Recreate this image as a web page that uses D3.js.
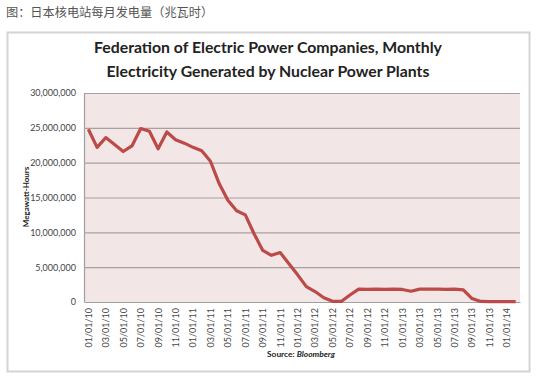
<!DOCTYPE html>
<html><head><meta charset="utf-8">
<script src="https://cdn.jsdelivr.net/npm/d3@7"></script>
<style>body{margin:0;background:#fff}svg{display:block}</style>
</head><body>
<script>
const months = ["01/01/10","02/01/10","03/01/10","04/01/10","05/01/10","06/01/10","07/01/10","08/01/10","09/01/10","10/01/10","11/01/10","12/01/10",
"01/01/11","02/01/11","03/01/11","04/01/11","05/01/11","06/01/11","07/01/11","08/01/11","09/01/11","10/01/11","11/01/11","12/01/11",
"01/01/12","02/01/12","03/01/12","04/01/12","05/01/12","06/01/12","07/01/12","08/01/12","09/01/12","10/01/12","11/01/12","12/01/12",
"01/01/13","02/01/13","03/01/13","04/01/13","05/01/13","06/01/13","07/01/13","08/01/13","09/01/13","10/01/13","11/01/13","12/01/13",
"01/01/14","02/01/14"];
const generation = [24800000,22200000,23600000,22600000,21600000,22400000,24900000,24500000,22000000,24400000,23300000,22800000,
22200000,21700000,20200000,17000000,14600000,13100000,12500000,9800000,7400000,6700000,7100000,5500000,
3900000,2200000,1500000,600000,100000,80000,1000000,1850000,1800000,1850000,1800000,1850000,
1800000,1550000,1850000,1850000,1850000,1800000,1850000,1750000,500000,80000,50000,50000,
50000,50000];
const yTicks = [0,5000000,10000000,15000000,20000000,25000000,30000000];
const xTickLabels = months.filter((d,i)=>i%2===0);

const W=536,H=379;
const svg=d3.select("body").append("svg").attr("width",W).attr("height",H);
const font="Lato, 'Open Sans', sans-serif";

svg.append("text").attr("x",6).attr("y",17).attr("font-family","'Noto Sans CJK SC', sans-serif")
  .attr("font-size",12.2).attr("fill","#555").text("图：日本核电站每月发电量（兆瓦时）");

svg.append("rect").attr("x",7.5).attr("y",32.5).attr("width",522).attr("height",339)
  .attr("fill","#fff").attr("stroke","#d4d4d4").attr("stroke-width",2);

const title=svg.append("text").attr("text-anchor","middle").attr("font-family",font)
  .attr("font-weight","bold").attr("font-size",15.8).attr("fill","#222");
title.append("tspan").attr("x",268).attr("y",53).text("Federation of Electric Power Companies, Monthly");
title.append("tspan").attr("x",268).attr("y",77).text("Electricity Generated by Nuclear Power Plants");

const L=84,R=520,T=93,B=302;
const x=d3.scalePoint().domain(months).range([L,R]).padding(0.5);
const y=d3.scaleLinear().domain([0,30000000]).range([B,T]);

svg.append("rect").attr("x",L).attr("y",T).attr("width",R-L).attr("height",B-T).attr("fill","#f2e6e6");

svg.append("g").selectAll("line").data(yTicks.filter(d=>d>0)).join("line")
  .attr("x1",L).attr("x2",R).attr("y1",d=>y(d)+0.5).attr("y2",d=>y(d)+0.5)
  .attr("stroke","#a9a0a0").attr("stroke-width",1.2);

const yAxis=svg.append("g").attr("transform",`translate(${L},0)`)
  .call(d3.axisLeft(y).tickValues(yTicks).tickSize(0).tickPadding(8).tickFormat(d3.format(",")));
yAxis.select(".domain").attr("stroke","#a0a0a0").attr("stroke-width",1.2);
yAxis.selectAll("text").attr("font-family",font).attr("font-size",9).attr("fill","#444");

const xAxis=svg.append("g").attr("transform",`translate(0,${B})`)
  .call(d3.axisBottom(x).tickValues(xTickLabels).tickSize(0));
xAxis.select(".domain").attr("stroke","#a0a0a0").attr("stroke-width",1.2);
xAxis.selectAll("text").attr("font-family",font).attr("font-size",9).attr("fill","#444")
  .attr("text-anchor","end").attr("dy","0.32em").attr("transform","translate(0,6) rotate(-90)").attr("x",0).attr("y",0);

svg.append("text").attr("transform","translate(29,197) rotate(-90)").attr("text-anchor","middle")
  .attr("font-family",font).attr("font-weight","bold").attr("font-size",8).attr("fill","#222").text("Megawatt-Hours");

const src=svg.append("text").attr("x",301).attr("y",357).attr("text-anchor","middle")
  .attr("font-family",font).attr("font-weight","bold").attr("font-size",8.4).attr("fill","#222");
src.append("tspan").text("Source: ");
src.append("tspan").attr("font-style","italic").text("Bloomberg");

const line=d3.line().x((d,i)=>x(months[i])).y(d=>y(d));
svg.append("path").datum(generation).attr("d",line).attr("fill","none")
  .attr("stroke","#bb4a48").attr("stroke-width",3.2).attr("stroke-linejoin","round");
</script>
</body></html>
